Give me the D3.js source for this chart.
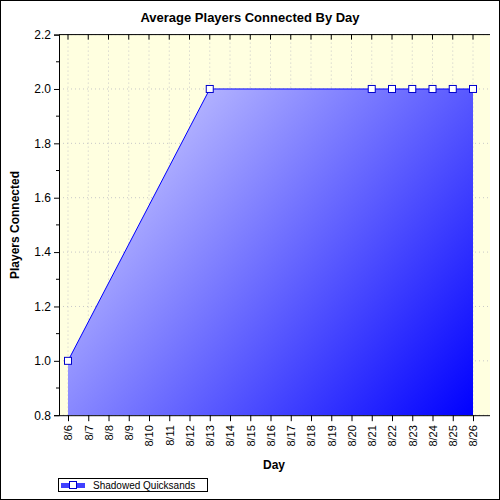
<!DOCTYPE html><html><head><meta charset="utf-8"><script src="https://cdn.jsdelivr.net/npm/d3@7"></script>
<style>body{margin:0;background:#fff}text{font-family:"Liberation Sans",Arial,sans-serif}</style></head><body>
<svg id="c" width="500" height="500"></svg>
<script>
const categories=["8/6","8/7","8/8","8/9","8/10","8/11","8/12","8/13","8/14","8/15","8/16","8/17","8/18","8/19","8/20","8/21","8/22","8/23","8/24","8/25","8/26"];
const values=[1.0,null,null,null,null,null,null,2.0,null,null,null,null,null,null,null,2.0,2.0,2.0,2.0,2.0,2.0];
const yTicks=[0.8,1.0,1.2,1.4,1.6,1.8,2.0,2.2];
const seriesName="Shadowed Quicksands";
const svg=d3.select("#c");
const L=59,R=490,T=34.6,B=415.2;
svg.append("rect").attr("x",0.5).attr("y",0.5).attr("width",499).attr("height",499).attr("fill","#fff").attr("stroke","#000");
svg.append("rect").attr("x",L).attr("y",T).attr("width",R-L).attr("height",B-T).attr("fill","#ffffe0");
const x=d3.scalePoint().domain(categories).range([68,473]);
const y=d3.scaleLinear().domain([0.8,2.2]).range([B,T]);
const g=svg.append("g");
categories.forEach(c=>g.append("line").attr("x1",x(c)).attr("x2",x(c)).attr("y1",T).attr("y2",B).attr("stroke","#c8c8c8").attr("stroke-dasharray","1,3"));
yTicks.forEach(v=>g.append("line").attr("x1",L).attr("x2",R).attr("y1",y(v)).attr("y2",y(v)).attr("stroke","#c8c8c8").attr("stroke-dasharray","1,3"));
const pts=categories.map((c,i)=>({c,v:values[i]})).filter(d=>d.v!=null);
const defs=svg.append("defs");
const gr=defs.append("linearGradient").attr("id","gr").attr("gradientUnits","userSpaceOnUse").attr("x1",68).attr("y1",89).attr("x2",473).attr("y2",B);
gr.append("stop").attr("offset",0).attr("stop-color","#e0e0ff");
gr.append("stop").attr("offset",1).attr("stop-color","#0000ff");
svg.append("path").datum(pts).attr("fill","url(#gr)").attr("d",d3.area().x(d=>x(d.c)).y0(B).y1(d=>y(d.v)));
svg.append("path").datum(pts).attr("fill","none").attr("stroke","#0000ff").attr("stroke-width",1).attr("d",d3.line().x(d=>x(d.c)).y(d=>y(d.v)));
svg.selectAll(".m").data(pts).join("rect").attr("x",d=>x(d.c)-3.5).attr("y",d=>y(d.v)-3.5).attr("width",7).attr("height",7).attr("fill","#fff").attr("stroke","#0000cc");
// axes
const ya=svg.append("g").attr("transform",`translate(${L},0)`).call(d3.axisLeft(y).tickValues(yTicks).tickFormat(d3.format(".1f")).tickSize(5));
ya.select(".domain").attr("stroke","#000");
ya.selectAll("text").attr("font-size",12).attr("fill","#000");
d3.range(0.9,2.2,0.2).forEach(v=>svg.append("line").attr("x1",L-3).attr("x2",L).attr("y1",y(v)).attr("y2",y(v)).attr("stroke","#000"));
const xa=svg.append("g").attr("transform",`translate(0,${B})`).call(d3.axisBottom(x).tickSize(6).tickSizeOuter(0));
xa.select(".domain").attr("d",`M${L},0.5H${R}`);
xa.selectAll("text").attr("font-size",11).attr("fill","#000").attr("transform","rotate(-90)").attr("text-anchor","end").attr("x",-10).attr("y",0).attr("dy","0.35em");
svg.append("line").attr("x1",L).attr("x2",R).attr("y1",T).attr("y2",T).attr("stroke","#000");
categories.forEach(c=>svg.append("line").attr("x1",x(c)).attr("x2",x(c)).attr("y1",T).attr("y2",T+5).attr("stroke","#000"));
svg.append("text").attr("x",250).attr("y",22).attr("text-anchor","middle").attr("font-size",13).attr("font-weight","bold").text("Average Players Connected By Day");
svg.append("text").attr("x",274).attr("y",469).attr("text-anchor","middle").attr("font-size",12).attr("font-weight","bold").text("Day");
svg.append("text").attr("transform","translate(19,225) rotate(-90)").attr("text-anchor","middle").attr("font-size",12).attr("font-weight","bold").text("Players Connected");
const lg=svg.append("g");
lg.append("rect").attr("x",58.5).attr("y",478.5).attr("width",149).attr("height",13).attr("fill","#fff").attr("stroke","#000");
lg.append("rect").attr("x",61).attr("y",483).attr("width",24).attr("height",5).attr("fill","#4040ff");
lg.append("rect").attr("x",69.5).attr("y",481.5).attr("width",7).attr("height",7).attr("fill","#fff").attr("stroke","#0000cc");
lg.append("text").attr("x",93).attr("y",489).attr("font-size",10).text(seriesName);
</script></body></html>
